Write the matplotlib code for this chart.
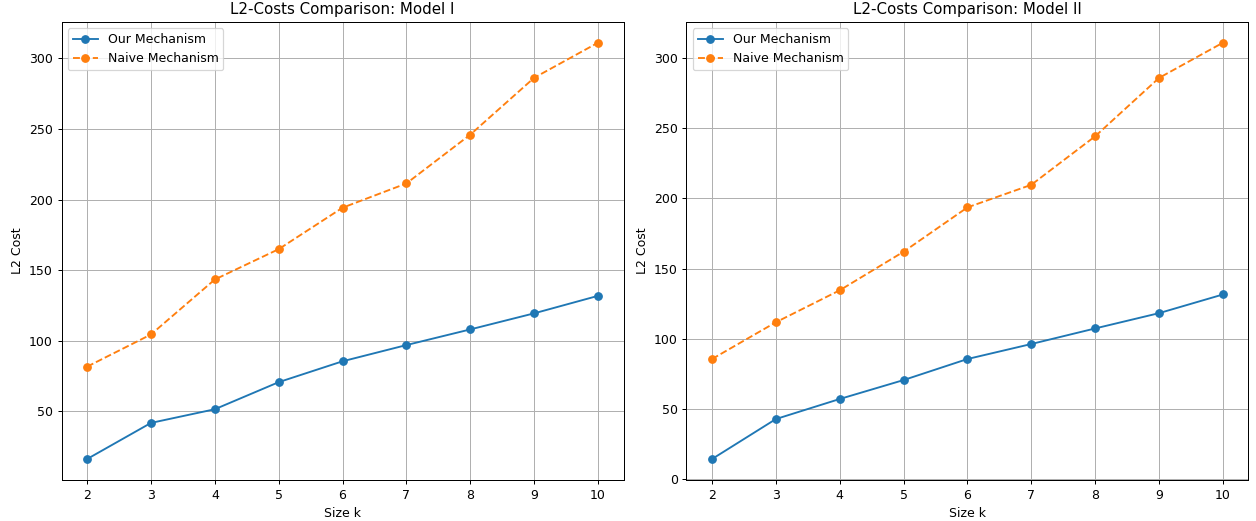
import matplotlib
matplotlib.use('Agg')
import matplotlib.pyplot as plt
import numpy as np

k_values = [2, 3, 4, 5, 6, 7, 8, 9, 10]

# Model I
our_model1 = [16.0, 41.6, 51.3, 70.5, 85.3, 96.8, 107.9, 119.3, 131.7]
naive_model1 = [81.5, 104.3, 143.3, 164.8, 194.2, 211.4, 246.0, 286.3, 311.2]

# Model II
our_model2 = [14.2, 42.7, 57.0, 70.5, 85.5, 96.2, 107.3, 118.2, 131.5]
naive_model2 = [85.5, 111.7, 134.5, 162.0, 193.6, 209.7, 244.3, 285.9, 311.0]

titles = ['L2-Costs Comparison: Model I', 'L2-Costs Comparison: Model II']
series = [(our_model1, naive_model1), (our_model2, naive_model2)]

dpi = 89.7
fig, axes = plt.subplots(1, 2, figsize=(1256 / dpi, 521 / dpi), dpi=dpi)

for ax, title, (our, naive) in zip(axes, titles, series):
    ax.plot(k_values, our, marker='o', linestyle='-', label='Our Mechanism')
    ax.plot(k_values, naive, marker='o', linestyle='--', label='Naive Mechanism')
    ax.set_title(title)
    ax.set_xlabel('Size k')
    ax.set_ylabel('L2 Cost')
    ax.set_xticks(k_values)
    ax.legend(loc='upper left')
    ax.grid(True)

plt.subplots_adjust(left=0.049, right=0.994, bottom=0.079, top=0.958, wspace=0.112)
plt.savefig('out.png', dpi=dpi)
